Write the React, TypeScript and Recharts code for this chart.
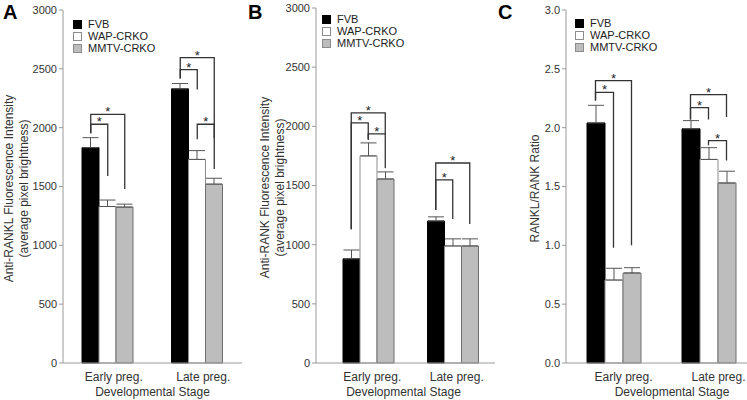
import React from 'react';
import { BarChart, Bar, XAxis, YAxis, ErrorBar, Legend, ReferenceLine } from 'recharts';

const stages = ['Early preg.', 'Late preg.'];
const seriesKeys = ['FVB', 'WAP', 'MMTV'];

// Panel A: anti-RANKL fluorescence
const ranklFVB = [1830, 2330];
const ranklWAP = [1330, 1730];
const ranklMMTV = [1325, 1520];
const ranklErrFVB = [85, 45];
const ranklErrWAP = [55, 75];
const ranklErrMMTV = [25, 50];

// Panel B: anti-RANK fluorescence
const rankFVB = [880, 1200];
const rankWAP = [1750, 989];
const rankMMTV = [1555, 989];
const rankErrFVB = [75, 35];
const rankErrWAP = [110, 60];
const rankErrMMTV = [60, 60];

// Panel C: RANKL/RANK ratio
const ratioFVB = [2.04, 1.99];
const ratioWAP = [0.705, 1.73];
const ratioMMTV = [0.765, 1.53];
const ratioErrFVB = [0.15, 0.07];
const ratioErrWAP = [0.1, 0.1];
const ratioErrMMTV = [0.045, 0.1];

const intensityTicks = [0, 500, 1000, 1500, 2000, 2500, 3000];
const ratioTicks = [0, 0.5, 1, 1.5, 2, 2.5, 3];

// significance brackets: [stage, from bar, to bar, top, low end at "from", low end at "to"]
const ranklBrackets = [
  ['Early preg.', 0, 2, 2113, 1953, 1479],
  ['Early preg.', 0, 1, 2029, 1953, 1589],
  ['Late preg.', 0, 2, 2595, 2418, 1910],
  ['Late preg.', 0, 1, 2494, 2418, 2325],
  ['Late preg.', 1, 2, 2029, 1902, 1648],
];
const rankBrackets = [
  ['Early preg.', 0, 2, 2113, 1130, 1936],
  ['Early preg.', 0, 1, 2029, 1130, 1885],
  ['Early preg.', 1, 2, 1936, 1893, 1648],
  ['Late preg.', 0, 2, 1690, 1293, 1175],
  ['Late preg.', 0, 1, 1547, 1293, 1217],
];
const ratioBrackets = [
  ['Early preg.', 0, 2, 2.4, 2.23, 1.0],
  ['Early preg.', 0, 1, 2.3, 2.23, 0.98],
  ['Late preg.', 0, 2, 2.28, 2.07, 2.09],
  ['Late preg.', 0, 1, 2.17, 2.07, 2.07],
  ['Late preg.', 1, 2, 1.89, 1.85, 1.72],
];

const seriesStyle: any = {
  FVB: { name: 'FVB', fill: '#000000', stroke: '#000000', legendStroke: '#000000' },
  WAP: { name: 'WAP-CRKO', fill: '#ffffff', stroke: '#8c8c8c', legendStroke: '#8c8c8c' },
  MMTV: { name: 'MMTV-CRKO', fill: '#bdbdbd', stroke: '#6e6e6e', legendStroke: '#8c8c8c' },
};

const FONT = 'Arial, "Liberation Sans", Helvetica, sans-serif';
const PLOT_BOTTOM = 363;

const buildRows = (fvb: number[], wap: number[], mmtv: number[], eF: number[], eW: number[], eM: number[]) =>
  stages.map((stage, i) => ({
    stage,
    FVB: fvb[i],
    WAP: wap[i],
    MMTV: mmtv[i],
    errFVB: [0, eF[i]],
    errWAP: [0, eW[i]],
    errMMTV: [0, eM[i]],
  }));

const LegendBox = () => (
  <div style={{ fontSize: 11, color: '#222', fontFamily: FONT }}>
    {seriesKeys.map((k) => {
      const s = seriesStyle[k];
      return (
        <div key={k} style={{ display: 'flex', alignItems: 'center', height: 12 }}>
          <span
            style={{
              display: 'inline-block',
              boxSizing: 'border-box',
              width: 9,
              height: 9,
              background: s.fill,
              border: `1px solid ${s.legendStroke}`,
              marginRight: 6,
            }}
          />
          {s.name}
        </div>
      );
    })}
  </div>
);

const bracketShape = (b: any[], barSize: number) => (p: any) => {
  const [, from, to, top, lowA, lowB] = b;
  const k = (p.y2 - p.y1) / (top - lowA);
  const yB = p.y1 + (top - lowB) * k;
  const xa = p.x1 + (from - 1) * barSize;
  const xb = p.x1 + (to - 1) * barSize;
  return (
    <g>
      <path d={`M${xa},${p.y2}V${p.y1}H${xb}V${yB}`} fill="none" stroke="#333" strokeWidth={1.3} />
      <text x={(xa + xb) / 2} y={p.y1 + 2} textAnchor="middle" fontSize={13} fill="#222">*</text>
    </g>
  );
};

interface PanelProps {
  data: any[];
  ticks: number[];
  brackets: any[];
  yLabel: string[];
  fmt?: (v: number) => string;
  cfg: any;
}

const Panel: React.FC<PanelProps> = ({ data, ticks, brackets, yLabel, fmt, cfg }) => {
  const cy = (cfg.top + PLOT_BOTTOM) / 2 + 2;
  return (
    <div style={{ position: 'absolute', left: cfg.left, top: 0 }}>
      <BarChart
        width={cfg.width}
        height={400}
        data={data}
        barSize={cfg.barSize}
        barGap={0}
        margin={{ top: cfg.top, right: cfg.right, left: 0, bottom: 0 }}
      >
        <XAxis
          dataKey="stage"
          height={400 - PLOT_BOTTOM}
          padding={{ left: cfg.padLeft, right: 0 }}
          axisLine={{ stroke: '#9a9a9a' }}
          tickLine={false}
          tickSize={6}
          tickMargin={3}
          tick={{ fontSize: 12, fill: '#333', dx: cfg.tickDx }}
          label={{
            content: ({ viewBox }: any) => (
              <text
                x={viewBox.x + viewBox.width / 2 + cfg.xLabelDx}
                y={396}
                textAnchor="middle"
                fontSize={12}
                fill="#333"
              >
                Developmental Stage
              </text>
            ),
          }}
        />
        <YAxis
          width={cfg.yWidth}
          domain={[0, ticks[ticks.length - 1]]}
          ticks={ticks}
          interval={0}
          tickFormatter={fmt}
          axisLine={{ stroke: '#9a9a9a' }}
          tickLine={{ stroke: '#9a9a9a' }}
          tickSize={4}
          tickMargin={2}
          tick={{ fontSize: 11, fill: '#333' }}
          label={{
            content: () => (
              <g>
                {yLabel.map((t, i) => (
                  <text
                    key={i}
                    x={cfg.yLabelX[i]}
                    y={cy}
                    transform={`rotate(-90 ${cfg.yLabelX[i]} ${cy})`}
                    textAnchor="middle"
                    dominantBaseline="central"
                    fontSize={12}
                    fill="#333"
                  >
                    {t}
                  </text>
                ))}
              </g>
            ),
          }}
        />
        <Legend
          layout="vertical"
          align="center"
          verticalAlign="middle"
          wrapperStyle={{ top: cfg.legendTop, left: cfg.legendLeft, width: 'auto' }}
          content={<LegendBox />}
        />
        {seriesKeys.map((k) => (
          <Bar
            key={k}
            dataKey={k}
            name={seriesStyle[k].name}
            fill={seriesStyle[k].fill}
            stroke={seriesStyle[k].stroke}
            strokeWidth={1}
            isAnimationActive={false}
          >
            <ErrorBar
              dataKey={`err${k}`}
              direction="y"
              width={8}
              stroke="#555"
              strokeWidth={1}
              isAnimationActive={false}
            />
          </Bar>
        ))}
        {brackets.map((b, i) => (
          <ReferenceLine
            key={i}
            segment={[
              { x: b[0], y: b[3] },
              { x: b[0], y: b[4] },
            ]}
            ifOverflow="visible"
            shape={bracketShape(b, cfg.barSize)}
          />
        ))}
      </BarChart>
    </div>
  );
};

const panelA = { left: 0, width: 250, top: 10, right: 8, yWidth: 63, barSize: 17, padLeft: 0, tickDx: 6, xLabelDx: 0, legendTop: 18, legendLeft: 73, yLabelX: [9, 24] };
const panelB = { left: 245, width: 252, top: 8, right: 2, yWidth: 71, barSize: 17, padLeft: 10, tickDx: 4, xLabelDx: -2, legendTop: 13, legendLeft: 77, yLabelX: [20, 35] };
const panelC = { left: 495, width: 265, top: 10, right: 4, yWidth: 71, barSize: 18, padLeft: 0, tickDx: 10, xLabelDx: 11, legendTop: 17, legendLeft: 80, yLabelX: [40] };

const letterStyle: React.CSSProperties = { position: 'absolute', top: 1, fontSize: 20, fontWeight: 'bold', color: '#000', lineHeight: 'normal' };

export default function App() {
  return (
    <div
      style={{
        position: 'absolute',
        left: 0,
        top: 0,
        width: 747,
        height: 400,
        overflow: 'hidden',
        background: '#fff',
        fontFamily: FONT,
      }}
    >
      <Panel
        data={buildRows(ranklFVB, ranklWAP, ranklMMTV, ranklErrFVB, ranklErrWAP, ranklErrMMTV)}
        ticks={intensityTicks}
        brackets={ranklBrackets}
        yLabel={['Anti-RANKL Fluorescence Intensity', '(average pixel brightness)']}
        cfg={panelA}
      />
      <Panel
        data={buildRows(rankFVB, rankWAP, rankMMTV, rankErrFVB, rankErrWAP, rankErrMMTV)}
        ticks={intensityTicks}
        brackets={rankBrackets}
        yLabel={['Anti-RANK Fluorescence Intensity', '(average pixel brightness)']}
        cfg={panelB}
      />
      <Panel
        data={buildRows(ratioFVB, ratioWAP, ratioMMTV, ratioErrFVB, ratioErrWAP, ratioErrMMTV)}
        ticks={ratioTicks}
        brackets={ratioBrackets}
        yLabel={['RANKL/RANK Ratio']}
        fmt={(v: number) => v.toFixed(1)}
        cfg={panelC}
      />
      <div style={{ ...letterStyle, left: 3 }}>A</div>
      <div style={{ ...letterStyle, left: 248 }}>B</div>
      <div style={{ ...letterStyle, left: 498 }}>C</div>
    </div>
  );
}
